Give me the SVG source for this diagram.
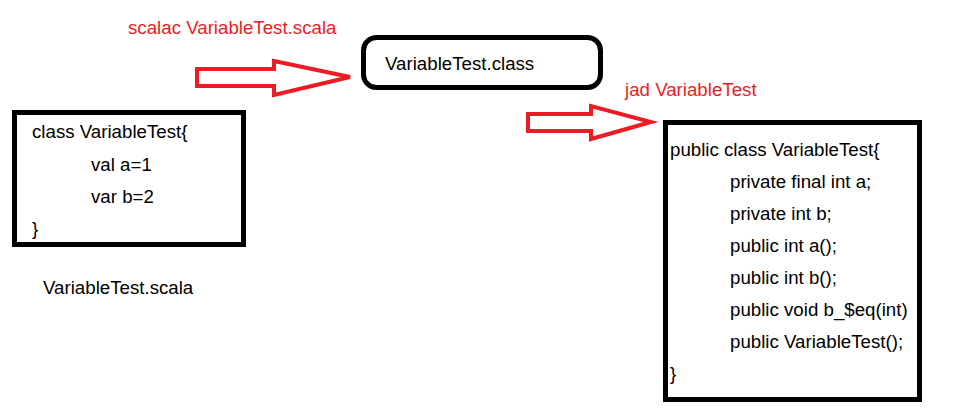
<svg xmlns="http://www.w3.org/2000/svg" width="961" height="416" viewBox="0 0 961 416">
<style>
text{font-family:"Liberation Sans",Arial,sans-serif;font-size:18.7px;fill:#000}
.red{fill:#ed1c24}
.box{fill:#fff;stroke:#000;stroke-width:5}
.arrow{fill:none;stroke:#ed1c24;stroke-width:4;stroke-linejoin:miter}
</style>
<rect width="961" height="416" fill="#fff"/>
<g id="source">
<rect class="box" x="14.5" y="112.5" width="229" height="132"/>
<text x="32" y="138">class VariableTest{</text>
<text x="91" y="171">val a=1</text>
<text x="91" y="203">var b=2</text>
<text x="32" y="235">}</text>
</g>
<g id="source-label"><text x="43" y="294">VariableTest.scala</text></g>
<g id="classfile">
<rect class="box" x="363.5" y="37.5" width="237" height="50" rx="13" ry="13"/>
<text x="385" y="70">VariableTest.class</text>
</g>
<g id="decompiled">
<rect class="box" x="665.5" y="122.5" width="254" height="277"/>
<text x="670" y="156">public class VariableTest{</text>
<text x="730" y="188">private final int a;</text>
<text x="730" y="220">private int b;</text>
<text x="730" y="252">public int a();</text>
<text x="730" y="284">public int b();</text>
<text x="730" y="316">public void b_$eq(int)</text>
<text x="730" y="348">public VariableTest();</text>
<text x="670" y="380">}</text>
</g>
<g id="connectors">
<path class="arrow" d="M197,69 L274,69 L274,61 L350,77 L274,95 L274,86 L197,86 Z"/>
<text class="red" x="128" y="34">scalac VariableTest.scala</text>
<path class="arrow" d="M528,114 L591,114 L591,106 L651,122 L591,139 L591,131 L528,131 Z"/>
<text class="red" x="625" y="96">jad VariableTest</text>
</g>
</svg>
